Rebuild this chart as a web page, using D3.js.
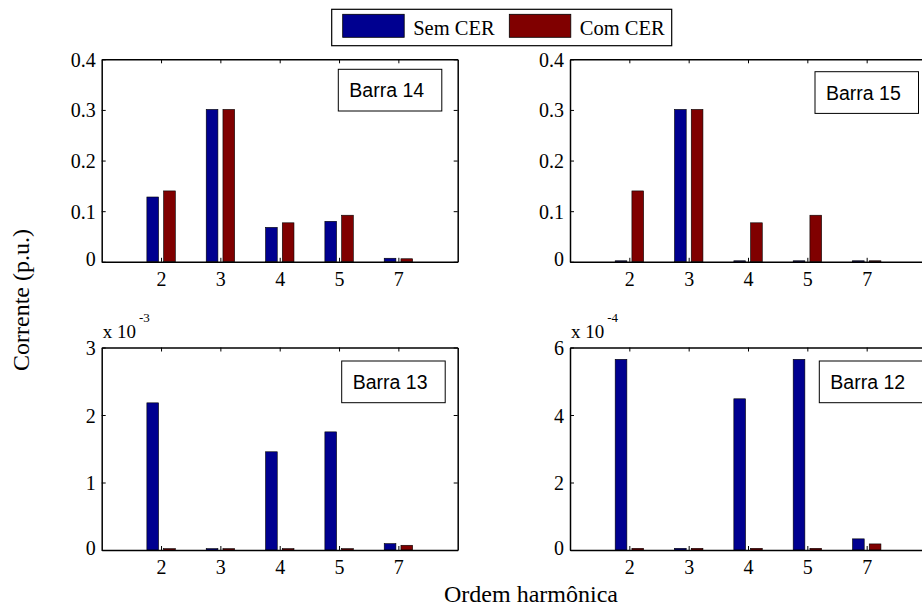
<!DOCTYPE html>
<html>
<head>
<meta charset="utf-8">
<script src="https://cdn.jsdelivr.net/npm/d3@7"></script>
<style>
  body { margin: 0; background: #fff; }
  svg { display: block; }
  .serif { font-family: "Liberation Serif", "Times New Roman", serif; }
  .sans { font-family: "Liberation Sans", Arial, sans-serif; }
</style>
</head>
<body>
<svg id="chart" width="922" height="611"></svg>
<script>
// harmonic orders (x categories)
const harmonics = ["2", "3", "4", "5", "7"];
const seriesNames = ["Sem CER", "Com CER"];
const seriesColors = ["#000090", "#800000"];

// Barra 14 (p.u.)
const barra14Sem = [0.128, 0.301, 0.068, 0.080, 0.007];
const barra14Com = [0.140, 0.301, 0.077, 0.092, 0.006];
// Barra 15 (p.u.)
const barra15Sem = [0.002, 0.301, 0.002, 0.002, 0.002];
const barra15Com = [0.140, 0.301, 0.077, 0.092, 0.002];
// Barra 13 (p.u.)
const barra13Sem = [2.18e-3, 0.02e-3, 1.455e-3, 1.75e-3, 0.094e-3];
const barra13Com = [0.02e-3, 0.02e-3, 0.02e-3, 0.02e-3, 0.07e-3];
// Barra 12 (p.u.)
const barra12Sem = [5.65e-4, 0.05e-4, 4.48e-4, 5.65e-4, 0.33e-4];
const barra12Com = [0.05e-4, 0.05e-4, 0.05e-4, 0.05e-4, 0.18e-4];

const panels = [
  { name: "Barra 14", sem: barra14Sem, com: barra14Com, ymax: 0.4, ticks: [0, 0.1, 0.2, 0.3, 0.4], scale: 1, exp: null,
    left: 101.7, top: 59.3, box: [338.3, 69.3] },
  { name: "Barra 15", sem: barra15Sem, com: barra15Com, ymax: 0.4, ticks: [0, 0.1, 0.2, 0.3, 0.4], scale: 1, exp: null,
    left: 570, top: 59.3, box: [815, 71.7] },
  { name: "Barra 13", sem: barra13Sem, com: barra13Com, ymax: 3e-3, ticks: [0, 1e-3, 2e-3, 3e-3], scale: 1e-3, exp: "-3",
    left: 101.7, top: 347.5, box: [341.7, 361] },
  { name: "Barra 12", sem: barra12Sem, com: barra12Com, ymax: 6e-4, ticks: [0, 2e-4, 4e-4, 6e-4], scale: 1e-4, exp: "-4",
    left: 570, top: 347.5, box: [819.3, 361] }
];

const svg = d3.select("#chart");
const W = 356, H = 202.5;
const barW = 0.197, offs = [-0.14, 0.142];

panels.forEach(p => {
  const g = svg.append("g").attr("transform", `translate(${p.left},${p.top})`);
  const x = d3.scaleLinear().domain([0, 6]).range([0, W]);
  const y = d3.scaleLinear().domain([0, p.ymax]).range([H, 0]);

  // bars
  [p.sem, p.com].forEach((vals, si) => {
    g.append("g").selectAll("rect")
      .data(vals)
      .enter()
      .append("rect")
      .attr("x", (d, i) => x(i + 1 + offs[si] - barW / 2))
      .attr("width", x(barW) - x(0))
      .attr("y", d => y(d))
      .attr("height", d => y(0) - y(d))
      .attr("fill", seriesColors[si])
      .attr("stroke", "#000")
      .attr("stroke-width", 0.6);
  });

  // axes with inward ticks on all four sides
  const tickPos = harmonics.map((h, i) => i + 1);
  const fmt = v => d3.format("")(+(v / p.scale).toFixed(3));
  const ax = g.append("g").attr("transform", `translate(0,${H})`)
    .call(d3.axisBottom(x).tickValues(tickPos).tickFormat((d, i) => harmonics[i]).tickSizeInner(-4).tickSizeOuter(0).tickPadding(10));
  const axTop = g.append("g")
    .call(d3.axisTop(x).tickValues(tickPos).tickFormat("").tickSizeInner(-4).tickSizeOuter(0));
  const ay = g.append("g")
    .call(d3.axisLeft(y).tickValues(p.ticks).tickFormat(p.scale === 1 ? d3.format("") : fmt).tickSizeInner(-4).tickSizeOuter(0).tickPadding(6));
  const ayR = g.append("g").attr("transform", `translate(${W},0)`)
    .call(d3.axisRight(y).tickValues(p.ticks).tickFormat("").tickSizeInner(-4).tickSizeOuter(0));

  [ax, axTop, ay, ayR].forEach(a => {
    a.attr("font-family", null).attr("class", "serif");
    a.select(".domain").attr("stroke", "#000").attr("stroke-width", 1.5);
    a.selectAll(".tick line").attr("stroke", "#000").attr("stroke-width", 1);
    a.selectAll("text").attr("font-size", 20).attr("fill", "#000");
  });
  ay.selectAll(".tick text").attr("dy", "0.35em");
  ay.selectAll(".tick").filter(d => d === 0).select("text").attr("dy", "0.2em");

  // exponent label
  if (p.exp) {
    const t = g.append("text").attr("class", "serif").attr("x", 1).attr("y", -10)
      .attr("font-size", 19).attr("fill", "#000");
    t.append("tspan").text("x 10");
    t.append("tspan").attr("dy", -16).attr("dx", 3).attr("font-size", 13).text(p.exp);
  }

  // panel label box
  svg.append("rect").attr("x", p.box[0]).attr("y", p.box[1])
    .attr("width", 103.5).attr("height", 41.7)
    .attr("fill", "#fff").attr("stroke", "#000").attr("stroke-width", 1);
  svg.append("text").attr("class", "sans").attr("x", p.box[0] + 11).attr("y", p.box[1] + 28)
    .attr("font-size", 19.5).attr("fill", "#000").text(p.name);
});

// legend
const lg = svg.append("g");
lg.append("rect").attr("x", 331.7).attr("y", 9.3).attr("width", 340).attr("height", 36.4)
  .attr("fill", "#fff").attr("stroke", "#000").attr("stroke-width", 1.2);
const legX = [342.7, 509.3];
seriesNames.forEach((s, i) => {
  lg.append("rect").attr("x", legX[i]).attr("y", 14.3).attr("width", 61.5).attr("height", 23)
    .attr("fill", seriesColors[i]).attr("stroke", "#000").attr("stroke-width", 0.8);
  lg.append("text").attr("class", "serif").attr("x", legX[i] + 70.5).attr("y", 34.5)
    .attr("font-size", 20.5).attr("fill", "#000").text(s);
});

// axis titles
svg.append("text").attr("class", "serif").attr("transform", "translate(29,300) rotate(-90)")
  .attr("text-anchor", "middle").attr("font-size", 24).attr("fill", "#000")
  .text("Corrente (p.u.)");
svg.append("text").attr("class", "serif").attr("x", 531).attr("y", 602)
  .attr("text-anchor", "middle").attr("font-size", 24).attr("fill", "#000")
  .text("Ordem harmônica");
</script>
</body>
</html>
